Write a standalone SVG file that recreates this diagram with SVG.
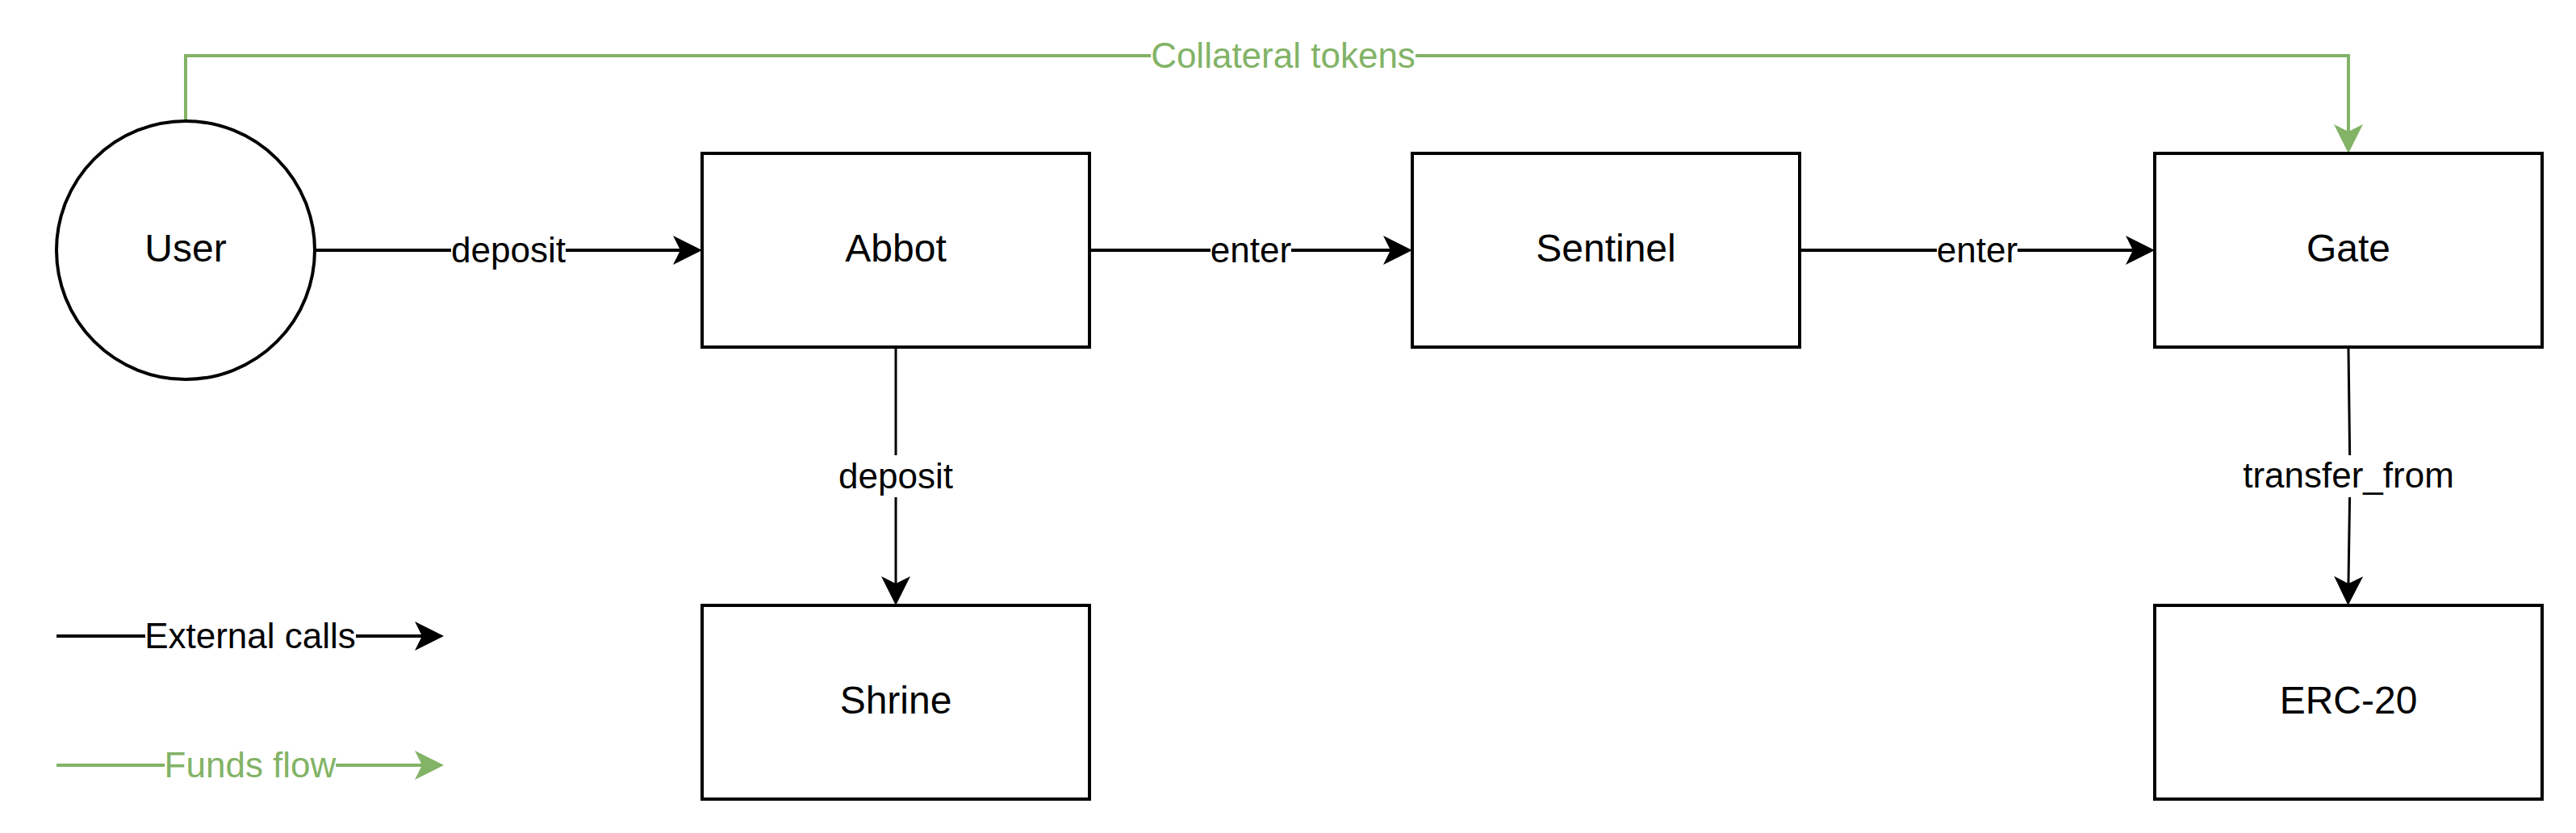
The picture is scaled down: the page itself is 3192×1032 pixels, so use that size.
<svg xmlns="http://www.w3.org/2000/svg" width="3192" height="1032" viewBox="0 0 3192 1032">
  <style>
    .node { fill: #ffffff; stroke: #000000; stroke-width: 4; }
    .ntext { font-family: "Liberation Sans", Arial, Helvetica, sans-serif; font-size: 48px; fill: #000000; text-anchor: middle; }
    .ltext { font-family: "Liberation Sans", Arial, Helvetica, sans-serif; font-size: 44px; fill: #000000; text-anchor: middle; }
    .gtext { fill: #82b366; }
    .edge { fill: none; stroke: #000000; stroke-width: 4; }
    .thin { stroke-width: 3; }
    .green { stroke: #82b366; }
    .lbg { fill: #ffffff; stroke: none; }
  </style>
  <defs>
    <marker id="arrowBlack" viewBox="0 0 36 36" markerWidth="36" markerHeight="36" refX="9" refY="18" orient="auto" markerUnits="userSpaceOnUse">
      <path d="M36,18 L0,0 L9,18 L0,36 Z" fill="#000000"/>
    </marker>
    <marker id="arrowGreen" viewBox="0 0 36 36" markerWidth="36" markerHeight="36" refX="9" refY="18" orient="auto" markerUnits="userSpaceOnUse">
      <path d="M36,18 L0,0 L9,18 L0,36 Z" fill="#82b366"/>
    </marker>
  </defs>

  <rect x="0" y="0" width="3192" height="1032" fill="#ffffff"/>

  <g id="connectors">
    <g id="edge-user-abbot">
      <line class="edge" x1="390" y1="310" x2="843" y2="310" marker-end="url(#arrowBlack)"/>
      <rect class="lbg" x="559" y="284" width="142" height="52"/>
      <text class="ltext" x="630" y="325">deposit</text>
    </g>
    <g id="edge-abbot-sentinel">
      <line class="edge" x1="1350" y1="310" x2="1723" y2="310" marker-end="url(#arrowBlack)"/>
      <rect class="lbg" x="1500" y="284" width="100" height="52"/>
      <text class="ltext" x="1550" y="325">enter</text>
    </g>
    <g id="edge-sentinel-gate">
      <line class="edge" x1="2230" y1="310" x2="2643" y2="310" marker-end="url(#arrowBlack)"/>
      <rect class="lbg" x="2400" y="284" width="100" height="52"/>
      <text class="ltext" x="2450" y="325">enter</text>
    </g>
    <g id="edge-abbot-shrine">
      <line class="edge thin" x1="1110" y1="430" x2="1110" y2="723" marker-end="url(#arrowBlack)"/>
      <rect class="lbg" x="1035" y="564" width="150" height="52"/>
      <text class="ltext" x="1110" y="605">deposit</text>
    </g>
    <g id="edge-gate-erc20">
      <polyline class="edge thin" points="2910,430 2912,590 2910,723" marker-end="url(#arrowBlack)"/>
      <rect class="lbg" x="2778" y="564" width="264" height="52"/>
      <text class="ltext" x="2910" y="604">transfer_from</text>
    </g>
    <g id="edge-user-gate-collateral">
      <polyline class="edge green" points="230,150 230,69 2910,69 2910,163" marker-end="url(#arrowGreen)"/>
      <rect class="lbg" x="1426" y="44" width="328" height="52"/>
      <text class="ltext gtext" x="1590" y="84">Collateral tokens</text>
    </g>
    <g id="legend-external-calls">
      <line class="edge" x1="70" y1="788" x2="523" y2="788" marker-end="url(#arrowBlack)"/>
      <rect class="lbg" x="180" y="762" width="261" height="52"/>
      <text class="ltext" x="310" y="803">External calls</text>
    </g>
    <g id="legend-funds-flow">
      <line class="edge green" x1="70" y1="948" x2="523" y2="948" marker-end="url(#arrowGreen)"/>
      <rect class="lbg" x="204" y="922" width="212" height="52"/>
      <text class="ltext gtext" x="310" y="963">Funds flow</text>
    </g>
  </g>

  <g id="node-user">
    <circle class="node" cx="230" cy="310" r="160"/>
    <text class="ntext" x="230" y="324">User</text>
  </g>
  <g id="node-abbot">
    <rect class="node" x="870" y="190" width="480" height="240"/>
    <text class="ntext" x="1110" y="324">Abbot</text>
  </g>
  <g id="node-sentinel">
    <rect class="node" x="1750" y="190" width="480" height="240"/>
    <text class="ntext" x="1990" y="324">Sentinel</text>
  </g>
  <g id="node-gate">
    <rect class="node" x="2670" y="190" width="480" height="240"/>
    <text class="ntext" x="2910" y="324">Gate</text>
  </g>
  <g id="node-shrine">
    <rect class="node" x="870" y="750" width="480" height="240"/>
    <text class="ntext" x="1110" y="884">Shrine</text>
  </g>
  <g id="node-erc20">
    <rect class="node" x="2670" y="750" width="480" height="240"/>
    <text class="ntext" x="2910" y="884">ERC-20</text>
  </g>
</svg>
